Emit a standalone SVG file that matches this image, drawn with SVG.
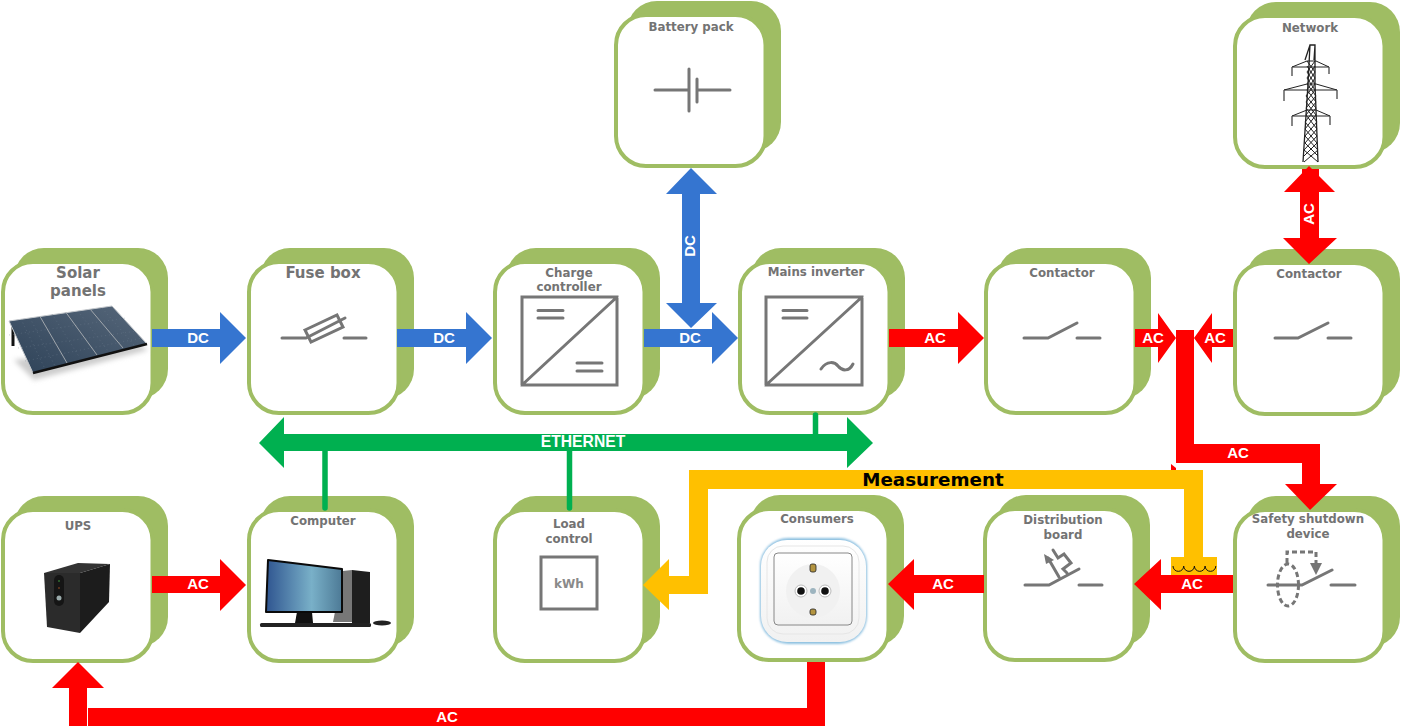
<svg xmlns="http://www.w3.org/2000/svg" xmlns:xlink="http://www.w3.org/1999/xlink" width="1401" height="727" viewBox="0 0 1401 727">
<style>
.t{font-family:"DejaVu Sans",sans-serif;font-weight:700;fill:#737373;font-size:11.8px;text-anchor:middle}
.b{font-size:15px}
.w{font-family:"Liberation Sans",Arial,sans-serif;font-weight:700;fill:#fff;font-size:15px;text-anchor:middle}
.i{fill:none;stroke:#767676;stroke-width:3;stroke-linecap:round;stroke-linejoin:miter}
.dc{fill:#3575d0}.ac{fill:#f00}.eth{fill:#00b050}.me{fill:#ffc000}
.tie{stroke:#00b050;stroke-width:5.5;stroke-linecap:round;fill:none}
.tw{fill:none;stroke:#222;stroke-width:1}
</style>
<defs>
<g id="card"><rect x="11" y="-14" width="154" height="151" rx="30" fill="#9fbd63"/><rect width="149.500" height="151" rx="30" fill="#fff" stroke="#9fbd63" stroke-width="4"/></g>
<linearGradient id="screen" x1="0" x2="1" y1="0" y2="0"><stop offset="0" stop-color="#2f5590"/><stop offset=".6" stop-color="#79b0c8"/><stop offset="1" stop-color="#4d7a96"/></linearGradient>
<linearGradient id="panel" x1="0" x2="1" y1="1" y2="0"><stop offset="0" stop-color="#2e4258"/><stop offset="1" stop-color="#56677a"/></linearGradient>
<linearGradient id="plate" x1="0" x2="0" y1="0" y2="1"><stop offset="0" stop-color="#fff"/><stop offset="1" stop-color="#f1f1f1"/></linearGradient>
<filter id="soft" x="-20%" y="-20%" width="140%" height="140%"><feGaussianBlur stdDeviation="2.500"/></filter>
<filter id="glow" x="-10%" y="-10%" width="120%" height="120%"><feGaussianBlur stdDeviation="1"/></filter>
</defs>

<g id="solar"><use href="#card" x="3" y="262"/><text class="t b" x="78" y="278">Solar</text><text class="t b" x="78" y="296">panels</text>
<polygon points="14,360 34,380 148,350 140,345" fill="#ccc" filter="url(#soft)"/>
<path d="M13 326V346" stroke="#111" stroke-width="3"/>
<polygon points="9,321 112,306 147,344 33,373" fill="url(#panel)" stroke="#c4c8cc" stroke-width="1"/>
<path d="M9 335L126 318M18 348L137 331M25 361L142 338M21 319L45 369M30 318L55 366M52 314L80 358M78 311L108 351M102 308L134 345" stroke="#6f7f90" stroke-width=".4" fill="none" stroke-dasharray="1 3"/>
<path d="M40 316.500L67 363M66 312.500L97 355M90 309L123 348" stroke="#a0a6ac" stroke-width="1" fill="none"/>
<path d="M33 373L147 344" stroke="#111" stroke-width="2.500"/></g>

<g id="fuse"><use href="#card" x="249" y="262"/><text class="t b" x="323" y="278">Fuse box</text>
<path class="i" d="M282 338H306L345 318M344 338H366"/><polygon class="i" points="305,330 337,315 343,327 311,342"/></g>

<g id="charge"><use href="#card" x="495" y="262"/><text class="t" x="569" y="277">Charge</text><text class="t" x="569" y="291">controller</text>
<path class="i" d="M522 297H617V385H522ZM522 385L617 297M538 310.500H563M538 318H563M577 363H602M577 371H602"/></g>

<g id="inverter"><use href="#card" x="740" y="262"/><text class="t" x="816" y="276">Mains inverter</text>
<path class="i" d="M766 297H862V385H766ZM766 385L862 297M783 310.500H807M783 318H807M821 369C827 360 835 362 838 366C842 371 849 372 853 364"/></g>

<g id="contactor1"><use href="#card" x="986" y="262"/><text class="t" x="1062" y="277">Contactor</text>
<path class="i" d="M1024 338H1048L1077 323M1077 338H1100"/></g>

<g id="contactor2"><use href="#card" x="1235" y="263"/><text class="t" x="1309" y="278">Contactor</text>
<path class="i" d="M1275 338H1298L1328 323M1328 338H1351"/></g>

<g id="battery"><use href="#card" x="616" y="15"/><text class="t" x="691" y="31">Battery pack</text>
<path class="i" d="M655 90H688M689 69V111M697 79V102M697 90H730"/></g>

<g id="network"><use href="#card" x="1235" y="16"/><text class="t" x="1310" y="32">Network</text>
<path class="tw" style="stroke-width:1.300" d="M1303 162L1308 84L1310 45H1315L1315 84L1318 162M1310 45L1305 60M1315 45L1314 60"/>
<path class="tw" d="M1292 67H1329L1316 61L1307 61ZM1284 90H1337L1316 84L1307 84ZM1292 116H1330L1316 110L1307 110Z"/>
<path class="tw" style="stroke-width:1.400;stroke:#555" d="M1292 67V76M1329 67V74M1284 90V101M1337 90V99M1292 116V126M1330 116V125"/>
<path class="tw" d="M1307 61L1315 72L1307 84L1316 96L1306 108L1317 122L1305 136L1318 150L1304 162M1315 61L1307 72L1315 84L1306 96L1316 108L1305 122L1317 136L1304 150L1318 162M1307 66L1315 78L1307 90L1316 102L1306 115L1317 129L1305 143L1318 156M1315 66L1307 78L1315 90L1306 102L1316 115L1305 129L1317 143L1304 156"/></g>

<g id="ups"><use href="#card" x="3" y="510"/><text class="t" x="78" y="530">UPS</text>
<polygon points="44,573 78,563 110,564 80,573" fill="#333"/><polygon points="44,573 80,573 80,633 47,627" fill="#2b2b2b"/><polygon points="80,573 110,564 109,602 80,633" fill="#1c1c1c"/>
<rect x="54" y="575" width="10" height="31" rx="5" fill="#151515"/><circle cx="59" cy="598" r="2.500" fill="#9aa"/><circle cx="59" cy="581" r=".8" fill="#4a4"/><circle cx="59" cy="588" r=".8" fill="#a52"/></g>

<g id="computer"><use href="#card" x="249" y="510"/><text class="t" x="323" y="525">Computer</text>
<polygon points="343,571 352,570 352,622 333,622" fill="#777"/><polygon points="352,570 370,572 370,623 352,623" fill="#1e1e1e"/>
<polygon points="297,612 312,612 313,623 295,623" fill="#111"/>
<polygon points="268,560 342,569 342,612 266,612" fill="url(#screen)" stroke="#0a0a0a" stroke-width="2" stroke-linejoin="round"/>
<rect x="260" y="623" width="111" height="4" rx="1.500" fill="#222"/><ellipse cx="382" cy="623" rx="9" ry="2.500" fill="#222"/></g>

<g id="load"><use href="#card" x="495" y="510"/><text class="t" x="569" y="528">Load</text><text class="t" x="569" y="543">control</text>
<rect class="i" x="541" y="557" width="56" height="52"/><text class="t" style="fill:#8a8a8a;font-size:12px" x="569" y="588">kWh</text></g>

<g id="consumers"><use href="#card" x="739" y="509"/><text class="t" x="817" y="523">Consumers</text>
<rect x="760" y="538" width="107" height="106" rx="28" fill="#8cc0e0" filter="url(#glow)"/>
<rect x="761" y="540" width="105" height="102" rx="26" fill="url(#plate)"/>
<rect x="767" y="546" width="92" height="88" rx="16" fill="none" stroke="#e6e6e6" stroke-width="1"/>
<rect x="774" y="553" width="78" height="72" rx="4" fill="url(#plate)" stroke="#888" stroke-width="1"/>
<circle cx="813" cy="591" r="27" fill="#f1f1f1"/>
<circle cx="801" cy="591" r="6" fill="#fff" stroke="#bbb"/><circle cx="825" cy="591" r="6" fill="#fff" stroke="#bbb"/><circle cx="801" cy="591" r="3.800" fill="#111"/><circle cx="825" cy="591" r="3.800" fill="#111"/><circle cx="813" cy="591" r="3" fill="#9db4bf"/>
<rect x="810" y="564" width="6" height="8" rx="2" fill="#b39440" stroke="#222" stroke-width=".8"/><rect x="810" y="609" width="6" height="6" rx="2" fill="#b39440" stroke="#222" stroke-width=".8"/></g>

<g id="distribution"><use href="#card" x="985" y="509"/><text class="t" x="1063" y="524">Distribution</text><text class="t" x="1063" y="539">board</text>
<path class="i" d="M1025 585H1049L1079 569M1079 585H1102M1059 577L1048 558M1067 573L1063 569L1071 563L1064 554L1058 558L1053 550"/><polygon points="1044,554 1054,560 1046,564" fill="#767676"/></g>

<g id="safety"><use href="#card" x="1235" y="510"/><text class="t" x="1308" y="523">Safety shutdown</text><text class="t" x="1308" y="538">device</text>
<path class="i" d="M1268 585H1302L1332 570M1331 585H1355"/>
<ellipse cx="1288" cy="585" rx="10.500" ry="21" fill="none" stroke="#767676" stroke-width="3" stroke-dasharray="5 3"/>
<path d="M1287 563V552H1316V563" fill="none" stroke="#767676" stroke-width="3" stroke-dasharray="5 3"/><polygon points="1310,563 1322,563 1316,575" fill="#767676"/></g>

<g id="connectors">
<path class="tie" d="M325 448V508M569.500 448V508M815.500 415V436"/>
<polygon class="eth" points="259,443 284,417 284,434 847,434 847,417 873,443 847,468 847,451 284,451 284,468"/>
<polygon class="ac" points="1171,464 1176,468 1176,470 1171,470"/>
<polygon class="ac" points="1176,330 1194,330 1194,444 1320,444 1320,484 1337,484 1310,510 1285,484 1302,484 1302,463 1176,463"/>
<polygon class="me" points="1203,470 689,470 689,576 669,576 669,559 643,585 669,610 669,594 708,594 708,489 1184,489 1184,557 1171,557 1171,575 1217,575 1217,557 1203,557"/>
<path d="M1173 566a5.300 5.300 0 0 0 10.700 0a5.300 5.300 0 0 0 10.700 0a5.300 5.300 0 0 0 10.700 0a5.300 5.300 0 0 0 10.700 0" fill="none" stroke="#111" stroke-width="1"/>
<polygon class="dc" points="152,329 220,329 220,312 246,338 220,364 220,347 152,347"/>
<polygon class="dc" points="397,329 466,329 466,312 492,338 466,364 466,347 397,347"/>
<polygon class="dc" points="644,329 712,329 712,312 738,338 712,364 712,347 644,347"/>
<polygon class="dc" points="691,168 717,194 700,194 700,303 717,303 691,328 666,303 682,303 682,194 666,194"/>
<polygon class="ac" points="889,329 958,329 958,312 984,338 958,364 958,347 889,347"/>
<polygon class="ac" points="1135,329 1158,329 1158,313 1176,338 1158,363 1158,347 1135,347"/>
<polygon class="ac" points="1233,329 1212,329 1212,313 1194,338 1212,363 1212,347 1233,347"/>
<rect class="ac" x="1302" y="169" width="17" height="20"/>
<polygon class="ac" points="1309,166 1335,192 1319,192 1319,238 1337,238 1309,264 1283,238 1300,238 1300,192 1284,192"/>
<polygon class="ac" points="1233,575 1161,575 1161,559 1134,584 1161,610 1161,593 1233,593"/>
<polygon class="ac" points="984,575 914,575 914,559 888,584 914,610 914,593 984,593"/>
<polygon class="ac" points="152,576 220,576 220,559 246,585 220,611 220,593 152,593"/>
<polygon class="ac" points="807,662 825,662 825,726 88,726 88,708 807,708"/>
<polygon class="ac" points="78,662 104,688 87,688 87,726 69,726 69,688 52,688"/>
<g>
<text class="w" x="198" y="343">DC</text><text class="w" x="444" y="343">DC</text><text class="w" x="690" y="343">DC</text>
<text class="w" transform="translate(695,246) rotate(-90)">DC</text>
<text class="w" x="935" y="343">AC</text><text class="w" x="1153" y="343">AC</text><text class="w" x="1215" y="343">AC</text>
<text class="w" transform="translate(1314,214) rotate(-90)">AC</text>
<text class="w" x="1238" y="458">AC</text><text class="w" x="1192" y="589">AC</text><text class="w" x="943" y="589">AC</text><text class="w" x="198" y="589">AC</text><text class="w" x="447" y="722">AC</text>
<text class="w" style="font-size:15.700px" x="583" y="447">ETHERNET</text>
<text class="t" style="fill:#000;font-size:18.300px" x="933" y="486">Measurement</text>
</g>
</g>
</svg>
